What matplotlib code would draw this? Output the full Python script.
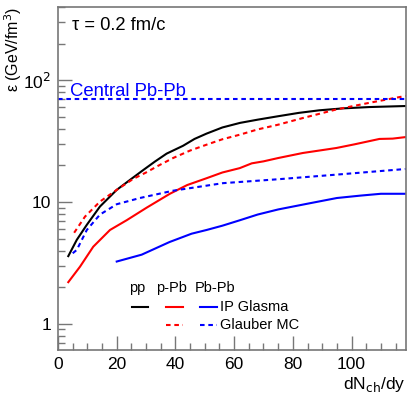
import matplotlib
matplotlib.use("Agg")
import matplotlib.pyplot as plt
from matplotlib.lines import Line2D
from matplotlib.ticker import FixedLocator, FuncFormatter, MultipleLocator

plt.rcParams["font.family"] = ["Liberation Sans", "DejaVu Sans"]

# energy density vs dNch/dy at tau = 0.2 fm/c
x_pp_ipg = [3.5, 6.4, 9.8, 14.3, 20, 24.5, 29, 33, 37, 42.6, 46.5, 50.6, 56, 62, 68, 75, 82, 89, 97, 106, 118.5]
eps_pp_ipg = [3.6, 4.9, 6.5, 9.2, 12.6, 15.2, 18.3, 21.5, 25.0, 29.0, 33.0, 36.5, 41.0, 44.7, 47.5,
              50.7, 54.0, 56.7, 58.8, 60.3, 61.5]

x_ppb_ipg = [3.5, 7.5, 12, 17.7, 23.4, 30.2, 38.1, 44, 50.6, 56, 61.9, 66, 70, 75, 83.4, 94.8, 101,
             109.5, 114, 118.5]
eps_ppb_ipg = [2.2, 2.95, 4.3, 5.9, 7.1, 9.0, 11.7, 13.8, 15.7, 17.5, 19.0, 20.8, 21.6, 23.0, 25.3,
               27.8, 29.8, 33.0, 33.2, 34.2]

x_ppb_glb = [5.5, 9.2, 14.3, 20, 25.6, 30, 34, 39.2, 45, 50.6, 56, 62, 68, 75, 83.4, 94.8, 106, 118.5]
eps_ppb_glb = [5.6, 7.6, 10.1, 12.6, 15.5, 17.5, 19.8, 23.0, 26.5, 29.6, 32.8, 35.8, 39.5, 43.2,
               49.0, 57.6, 65.3, 74.5]

x_pbpb_ipg = [20, 28.5, 38, 45.5, 50.6, 56, 62, 68, 75, 85, 95, 103, 110, 118.5]
eps_pbpb_ipg = [3.25, 3.7, 4.7, 5.5, 5.9, 6.4, 7.1, 7.9, 8.7, 9.7, 10.8, 11.3, 11.7, 11.7]

x_pbpb_glb = [5, 6.4, 9.8, 14.3, 20, 27.9, 39.2, 56.2, 75, 94.8, 118.5]
eps_pbpb_glb = [3.8, 4.05, 5.9, 7.9, 9.6, 10.8, 12.4, 14.3, 15.4, 16.8, 18.7]

eps_central_pbpb = 70

dash = (0, (2.2, 1.8))
lw = 1.5

fig = plt.figure(figsize=(4.15, 3.99), dpi=100)
ax = fig.add_axes([0.1398, 0.1228, 0.8382, 0.8597])

ax.plot(x_pp_ipg, eps_pp_ipg, color="black", lw=lw)
ax.plot(x_ppb_ipg, eps_ppb_ipg, color="red", lw=lw)
ax.plot(x_ppb_glb, eps_ppb_glb, color="red", lw=lw, linestyle=dash)
ax.plot(x_pbpb_ipg, eps_pbpb_ipg, color="blue", lw=lw)
ax.plot(x_pbpb_glb, eps_pbpb_glb, color="blue", lw=lw, linestyle=dash)
ax.axhline(eps_central_pbpb, color="blue", lw=lw, linestyle=dash)

ax.text(4.1, 75, "Central Pb-Pb", color="blue", fontsize=13.3, va="baseline")
ax.text(0.04, 0.947, "τ = 0.2 fm/c", transform=ax.transAxes, fontsize=13.2, va="center")

ax.set_yscale("log")
ax.set_xlim(0, 118.5)
ax.set_ylim(0.61, 400)

# ROOT-like ticks
frame = "#777777"
for side in ["left", "bottom", "right", "top"]:
    ax.spines[side].set_color(frame)
    ax.spines[side].set_linewidth(1.2)
ax.xaxis.set_major_locator(MultipleLocator(20))
ax.xaxis.set_minor_locator(MultipleLocator(5))
ax.yaxis.set_major_locator(FixedLocator([1, 10, 100]))
ax.yaxis.set_minor_locator(FixedLocator([d * m for d in (0.1, 1, 10, 100) for m in range(2, 10)]))
ax.yaxis.set_minor_formatter(FuncFormatter(lambda v, p: ""))
ax.yaxis.set_major_formatter(FuncFormatter(lambda v, p: {1: "1", 10: "10", 100: "10$^2$"}.get(int(round(v)), "")))
ax.tick_params(which="both", direction="in", color=frame, width=1.0, labelsize=12.5,
               top=False, right=False)
ax.tick_params(which="major", length=10, pad=5)
ax.tick_params(which="minor", length=5)

ax.set_xlabel("dN$_{\\rm ch}$/dy", fontsize=12.5, loc="right", labelpad=2)
ax.set_ylabel("ε (GeV/fm$^3$)", fontsize=11.5, loc="top")
ax.yaxis.set_label_coords(-0.097, 1.0)

# hand-made legend in axes fraction
lx = {"pp": (0.213, 0.259), "pPb": (0.310, 0.359), "PbPb": (0.408, 0.457)}
y_head, y_ipg, y_glb = 0.181, 0.126, 0.073
for txt, xc in [("pp", 0.227), ("p-Pb", 0.325), ("Pb-Pb", 0.451)]:
    ax.text(xc, y_head, txt, transform=ax.transAxes, fontsize=10.5, ha="center", va="center")
for key, col in [("pp", "black"), ("pPb", "red"), ("PbPb", "blue")]:
    ax.add_line(Line2D(lx[key], [y_ipg, y_ipg], color=col, lw=lw, transform=ax.transAxes))
for key, col in [("pPb", "red"), ("PbPb", "blue")]:
    ax.add_line(Line2D(lx[key], [y_glb, y_glb], color=col, lw=lw, linestyle=dash,
                       transform=ax.transAxes))
ax.text(0.466, y_ipg, "IP Glasma", transform=ax.transAxes, fontsize=10.5, va="center")
ax.text(0.466, y_glb, "Glauber MC", transform=ax.transAxes, fontsize=10.5, va="center")

fig.savefig("out.png", dpi=100)
